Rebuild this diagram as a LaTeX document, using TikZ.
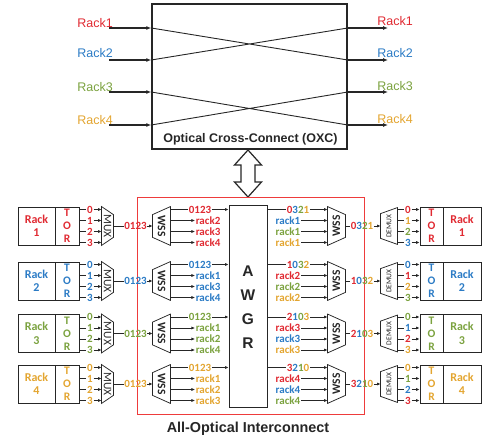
\documentclass[tikz,border=0pt]{standalone}
\usepackage{fontspec}
\setmainfont{Carlito}
\newfontfamily\arialf{Liberation Sans}
\usetikzlibrary{arrows.meta,calc}
\definecolor{rk1}{HTML}{E02A32}
\definecolor{rk2}{HTML}{2B7BC5}
\definecolor{rk3}{HTML}{7BA23F}
\definecolor{rk4}{HTML}{E3A530}
\definecolor{frameRed}{HTML}{EE3B3B}
\definecolor{ink}{HTML}{262626}
\begin{document}
\begin{tikzpicture}[x=1pt,y=-1pt,
  ln/.style={line width=0.75pt, draw=ink},
  arr/.style={ln, -{Latex[length=3.6pt,width=3.2pt]}},
  bigarr/.style={line width=1.1pt, draw=ink, -{Latex[length=5pt,width=4pt]}},
  frame/.style={draw=ink, line width=0.8pt, inner sep=0pt},
  lab/.style={inner sep=0.6pt, font=\fontsize{11}{11}\selectfont\bfseries},
  boxtxt/.style={font=\fontsize{12}{13.5}\selectfont\bfseries, align=center},
  tortxt/.style={font=\fontsize{11.5}{13}\selectfont\bfseries, align=center},
  devtxt/.style={inner sep=0pt, text=ink, font=\fontsize{11.5}{12}\selectfont},
  wsstxt/.style={inner sep=0pt, text=ink, font=\fontsize{11.5}{12}\selectfont\bfseries},
  toplab/.style={inner sep=0pt, font=\arialf\fontsize{12.5}{14}\selectfont},
]
\useasboundingbox (0,0) rectangle (488,443);

% ---------- optical cross-connect ----------
\node[draw=ink, line width=1.5pt, minimum width=195, minimum height=145, inner sep=0pt] (oxc) at (249.5,76.5) {};
\node[text=ink, font=\arialf\bfseries\fontsize{12.5}{14}\selectfont] (oxct) at (250.5,139) {Optical Cross-Connect (OXC)};

\foreach \i/\yl/\yr/\ya in {1/22.7/21.3/28, 2/53.3/53.3/60, 3/87.3/86/92, 4/120/119.3/125}{
  \node[toplab, text=rk\i] (inlab-\i) at (95,\yl) {Rack\i};
  \node[toplab, text=rk\i] (outlab-\i) at (395,\yr) {Rack\i};
  \coordinate (src-\i) at (109,\ya);
  \coordinate (dst-\i) at (388,\ya);
  \coordinate (pin-\i) at (oxc.west |- src-\i);
  \coordinate (pout-\i) at (oxc.east |- dst-\i);
  \draw[bigarr] (src-\i) -- (pin-\i);
  \draw[bigarr] (pout-\i) -- (dst-\i);
}
\draw[ln, line width=0.9pt] (pin-1) -- (pout-2) (pin-2) -- (pout-1)
                            (pin-3) -- (pout-4) (pin-4) -- (pout-3);

% ---------- link between the two fabrics ----------
\coordinate (link) at (248,173.5);
\begin{scope}[shift={(link)}]
  \draw[draw=ink, line width=1.2pt, fill=white, line join=miter]
    (0,-23.5) -- (13.5,-8.5) -- (7,-8.5) -- (7,8.5) -- (13.5,8.5) -- (0,23.5)
    -- (-13.5,8.5) -- (-7,8.5) -- (-7,-8.5) -- (-13.5,-8.5) -- cycle;
\end{scope}

% ---------- all-optical interconnect ----------
\node[draw=frameRed, line width=0.9pt, minimum width=227, minimum height=217, inner sep=0pt] (ic) at (250.5,305.5) {};
\node[text=ink, font=\arialf\bfseries\fontsize{14.4}{16}\selectfont] (ict) at (248,429) {All-Optical Interconnect};

\node[frame, minimum width=38, minimum height=202] (awgr) at (248,306) {};
\node[text=ink, align=center, font=\arialf\bfseries\fontsize{15.5}{24}\selectfont] (awgrt) at (248,307) {A\\W\\G\\R};

\foreach \i/\c in {1/226, 2/281, 3/333.5, 4/384}{
  \colorlet{cc}{rk\i}
  \pgfmathsetmacro\ytop{\c-16.5}
  \pgfmathtruncatemacro\wA{mod(\i+3,4)}
  \pgfmathtruncatemacro\wB{mod(\i+2,4)}
  \pgfmathtruncatemacro\wC{mod(\i+1,4)}
  \pgfmathtruncatemacro\wD{mod(\i,4)}

  % sending side
  \node[frame, minimum width=37, minimum height=38, boxtxt, text=cc] (rackL-\i) at (36.5,\c) {Rack\\\i};
  \node[frame, minimum width=24, minimum height=38, tortxt, text=cc] (torL-\i) at (67,\c) {T\\O\\R};
  \node[frame, draw=none, minimum width=11, minimum height=38] (muxL-\i) at (107.5,\c) {};
  \draw[ln] (muxL-\i.north west) -- ($(muxL-\i.north east)+(0,8)$)
            -- ($(muxL-\i.south east)+(0,-8)$) -- (muxL-\i.south west) -- cycle;
  \node[devtxt] (muxLt-\i) at (muxL-\i) {\rotatebox{-90}{MUX}};
  \node[lab, text=cc] (mL-\i) at (135.5,\c) {0123};
  \node[frame, draw=none, minimum width=17, minimum height=38] (wssL-\i) at (161.5,\c) {};
  \draw[ln] ($(wssL-\i.north west)+(0,8)$) -- (wssL-\i.north east)
            -- (wssL-\i.south east) -- ($(wssL-\i.south west)+(0,-8)$) -- cycle;
  \node[wsstxt] (wssLt-\i) at (wssL-\i) {\rotatebox{-90}{WSS}};
  \draw[ln] (muxL-\i.east) -- (mL-\i.west);
  \draw[arr] (mL-\i.east) -- (wssL-\i.west);

  \foreach \k in {0,...,3}{
    \pgfmathsetmacro\yy{\c-16.5+11*\k}
    \node[lab, text=cc] (dL-\i-\k) at (90,\yy) {\k};
    \draw[ln] (dL-\i-\k.west -| torL-\i.east) -- (dL-\i-\k.west);
    \draw[arr] (dL-\i-\k.east) -- (dL-\i-\k.east -| muxL-\i.west);
  }

  \node[lab, text=cc] (wL-\i-0) at (200,\ytop) {0123};
  \draw[ln] (wL-\i-0.west -| wssL-\i.east) -- (wL-\i-0.west);
  \draw[arr] (wL-\i-0.east) -- (wL-\i-0.east -| awgr.west);

  % receiving side
  \node[frame, minimum width=23, minimum height=38, tortxt, text=cc] (torR-\i) at (431.5,\c) {T\\O\\R};
  \node[frame, minimum width=38, minimum height=38, boxtxt, text=cc] (rackR-\i) at (462,\c) {Rack\\\i};
  \node[frame, draw=none, minimum width=17, minimum height=38] (wssR-\i) at (336.5,\c) {};
  \draw[ln] (wssR-\i.north west) -- ($(wssR-\i.north east)+(0,8)$)
            -- ($(wssR-\i.south east)+(0,-8)$) -- (wssR-\i.south west) -- cycle;
  \node[wsstxt] (wssRt-\i) at (wssR-\i) {\rotatebox{90}{WSS}};
  \node[frame, draw=none, minimum width=16, minimum height=36] (demux-\i) at (389,\c) {};
  \draw[ln] ($(demux-\i.north west)+(0,6)$) -- (demux-\i.north east)
            -- (demux-\i.south east) -- ($(demux-\i.south west)+(0,-6)$) -- cycle;
  \node[inner sep=0pt, text=ink, font=\fontsize{7.5}{8}\selectfont] (demuxt-\i) at (demux-\i) {\rotatebox{90}{DEMUX}};

  \node[lab] (wR-\i-0) at (298,\ytop)
    {\textcolor{rk1}{\wA}\textcolor{rk2}{\wB}\textcolor{rk3}{\wC}\textcolor{rk4}{\wD}};
  \draw[ln] (wR-\i-0.west -| awgr.east) -- (wR-\i-0.west);
  \draw[arr] (wR-\i-0.east) -- (wR-\i-0.east -| wssR-\i.west);
  \node[lab] (oR-\i) at (362,\c)
    {\textcolor{rk1}{\wA}\textcolor{rk2}{\wB}\textcolor{rk3}{\wC}\textcolor{rk4}{\wD}};
  \draw[ln] (wssR-\i.east) -- (oR-\i.west);
  \draw[arr] (oR-\i.east) -- (demux-\i.west);

  \foreach \j in {1,...,4}{
    \ifnum\j=\i\else
      \pgfmathtruncatemacro\r{\j<\i ? \j : \j-1}
      \pgfmathsetmacro\yy{\c-16.5+11*\r}
      \node[lab, text=cc, anchor=west] (wL-\i-\r) at (195,\yy) {rack\j};
      \draw[arr] (wL-\i-\r.west -| wssL-\i.east) -- (wL-\i-\r.west);
      \node[lab, text=rk\j, anchor=east] (wR-\i-\r) at (301,\yy) {rack\i};
      \draw[arr] (wR-\i-\r.east) -- (wR-\i-\r.east -| wssR-\i.west);
    \fi
  }

  \foreach \k in {0,...,3}{
    \pgfmathsetmacro\yy{\c-16.5+11*\k}
    \pgfmathtruncatemacro\s{mod(\i-\k+7,4)+1}
    \node[lab, text=rk\s] (dR-\i-\k) at (408,\yy) {\k};
    \draw[ln] (dR-\i-\k.west -| demux-\i.east) -- (dR-\i-\k.west);
    \draw[arr] (dR-\i-\k.east) -- (dR-\i-\k.east -| torR-\i.west);
  }
}
\end{tikzpicture}
\end{document}
